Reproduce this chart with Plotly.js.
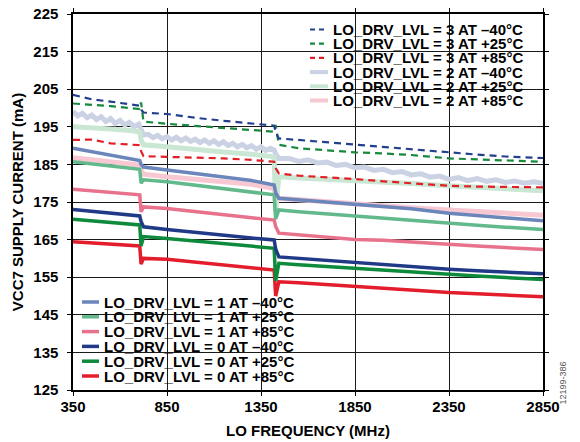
<!DOCTYPE html>
<html><head><meta charset="utf-8">
<script src="https://cdn.plot.ly/plotly-3.0.1.min.js"></script>
<style>html,body{margin:0;padding:0;background:#fff}#chart{width:580px;height:442px}</style>
</head><body><div id="chart"></div><script>
// ---- data ----
const freq = [350, 450, 550, 650, 705, 712, 725, 850, 1000, 1150, 1300, 1420, 1428, 1445, 1550, 1700, 1850, 2000, 2150, 2350, 2500, 2650, 2850];

const lvl3_m40 = [203.5, 202.3, 201.7, 201.0, 200.6, 199.6, 198.8, 198.4, 197.4, 196.6, 195.8, 195.3, 193.6, 191.9, 191.5, 190.9, 190.3, 189.5, 188.9, 188.1, 187.6, 187.1, 186.7];
const lvl3_p25 = [201.2, 200.9, 200.5, 200.0, 199.7, 201.5, 196.4, 195.8, 195.2, 194.7, 194.1, 193.7, 195.5, 190.2, 189.3, 188.7, 188.2, 187.9, 187.5, 186.6, 186.3, 186.0, 185.7];
const lvl3_p85 = [191.5, 191.6, 190.6, 190.3, 190.1, 188.5, 187.2, 187.0, 186.8, 186.6, 186.2, 185.7, 184.0, 182.6, 182.0, 181.6, 181.1, 180.5, 180.0, 179.3, 179.1, 179.0, 178.9];

const freqL2m40 = [350, 375, 400, 425, 450, 475, 500, 525, 550, 575, 600, 625, 650, 675, 700, 712, 725,
  750, 775, 800, 825, 850, 875, 900, 925, 950, 975, 1000, 1025, 1050, 1075, 1100, 1125, 1150, 1175, 1200, 1225, 1250, 1275, 1300, 1325, 1350, 1375, 1400, 1420, 1428, 1445,
  1500, 1550, 1600, 1650, 1700, 1750, 1800, 1850, 1900, 1950, 2000, 2050, 2100, 2150, 2200, 2250, 2300, 2350, 2400, 2450, 2500, 2550, 2600, 2650, 2700, 2750, 2800, 2850];
const lvl2_m40 = [199.1, 197.9, 198.6, 197.4, 198.1, 196.9, 197.7, 196.4, 197.2, 195.9, 196.7, 195.5, 196.2, 195.0, 195.7, 194.0, 192.8,
  193.0, 192.1, 192.7, 191.8, 192.4, 191.5, 192.2, 191.3, 192.0, 191.1, 191.7, 190.8, 191.5, 190.6, 191.3, 190.3, 191.0, 190.0, 190.6, 189.7, 190.3, 189.4, 190.0, 189.0, 189.7, 188.7, 189.3, 188.8, 187.8, 186.6,
  186.6, 185.8, 186.2, 185.4, 185.6, 184.7, 185.0, 184.1, 184.3, 183.4, 183.7, 182.8, 183.1, 182.2, 182.5, 181.6, 181.9, 181.0, 181.5, 180.7, 181.2, 180.5, 180.9, 180.2, 180.6, 180.0, 180.4, 180.0];
const lvl2_p25 = [195.0, 194.8, 194.4, 194.0, 193.7, 191.5, 190.2, 189.7, 188.9, 188.3, 187.7, 187.0, 172.5, 181.7, 181.4, 181.1, 180.7, 180.3, 179.9, 179.3, 178.9, 178.5, 178.0];
const lvl2_p85 = [186.8, 186.2, 185.7, 185.2, 184.8, 183.5, 182.4, 181.7, 181.0, 180.4, 179.7, 178.6, 177.0, 176.0, 175.6, 175.0, 174.5, 174.0, 173.5, 172.9, 172.4, 172.0, 171.5];

const lvl1_m40 = [189.3, 188.4, 187.5, 186.6, 186.0, 185.0, 184.3, 183.5, 182.6, 181.6, 180.7, 179.5, 177.5, 176.0, 175.6, 175.0, 174.3, 173.7, 173.2, 172.0, 171.4, 170.8, 170.0];
const lvl1_p25 = [185.7, 185.1, 184.6, 184.0, 183.7, 180.0, 180.9, 180.4, 179.5, 178.5, 177.5, 176.9, 170.5, 172.9, 172.4, 171.8, 171.2, 170.7, 170.1, 169.3, 168.8, 168.3, 167.7];
const lvl1_p85 = [178.4, 178.0, 177.6, 177.2, 176.9, 172.4, 173.7, 173.3, 172.4, 171.6, 170.8, 170.2, 168.5, 166.7, 166.3, 165.6, 165.0, 164.8, 164.3, 163.7, 163.3, 162.9, 162.4];

const lvl0_m40 = [173.0, 172.5, 172.1, 171.6, 171.3, 169.8, 168.4, 167.7, 166.9, 166.1, 165.4, 164.9, 162.5, 160.4, 160.0, 159.5, 159.0, 158.4, 157.9, 157.1, 156.7, 156.3, 155.9];
const lvl0_p25 = [170.4, 170.0, 169.6, 169.2, 168.9, 163.3, 165.8, 165.3, 164.6, 164.0, 163.4, 162.7, 154.0, 158.7, 158.3, 157.8, 157.3, 156.8, 156.4, 155.8, 155.3, 154.9, 154.4];
const lvl0_p85 = [164.4, 164.1, 163.8, 163.5, 163.3, 158.5, 160.0, 159.8, 159.0, 158.3, 157.6, 156.9, 150.0, 153.8, 153.5, 153.0, 152.5, 152.1, 151.6, 150.9, 150.6, 150.2, 149.8];

const xTicks = [350, 850, 1350, 1850, 2350, 2850];
const yTicks = [125, 135, 145, 155, 165, 175, 185, 195, 205, 215, 225];

const legendTop = ['LO_DRV_LVL = 3 AT \u201340°C', 'LO_DRV_LVL = 3 AT +25°C', 'LO_DRV_LVL = 3 AT +85°C',
                   'LO_DRV_LVL = 2 AT \u201340°C', 'LO_DRV_LVL = 2 AT +25°C', 'LO_DRV_LVL = 2 AT +85°C'];
const legendBottom = ['LO_DRV_LVL = 1 AT \u201340°C', 'LO_DRV_LVL = 1 AT +25°C', 'LO_DRV_LVL = 1 AT +85°C',
                      'LO_DRV_LVL = 0 AT \u201340°C', 'LO_DRV_LVL = 0 AT +25°C', 'LO_DRV_LVL = 0 AT +85°C'];

// ---- styles ----
const DASH = '7px,5px';
const S = {
  l3m40: {color: '#23408f', width: 2.2, dash: DASH},
  l3p25: {color: '#17893d', width: 2.2, dash: DASH},
  l3p85: {color: '#e21f26', width: 2.2, dash: DASH},
  l2m40: {color: '#cbd2e4', width: 5, dash: 'solid'},
  l2p25: {color: '#c9e7d3', width: 5, dash: 'solid'},
  l2p85: {color: '#f8c8d2', width: 5, dash: 'solid'},
  l1m40: {color: '#6a86ba', width: 3.5, dash: 'solid'},
  l1p25: {color: '#62b98b', width: 3.5, dash: 'solid'},
  l1p85: {color: '#e8718b', width: 3.5, dash: 'solid'},
  l0m40: {color: '#213a87', width: 3.5, dash: 'solid'},
  l0p25: {color: '#0d8a3b', width: 3.5, dash: 'solid'},
  l0p85: {color: '#e31d2b', width: 3.5, dash: 'solid'}
};

function tr(x, y, name, st) {
  return {type: 'scatter', mode: 'lines', x: x, y: y, name: name, showlegend: false,
          line: {color: st.color, width: st.width, dash: st.dash, shape: 'linear'}, hoverinfo: 'skip'};
}

const traces = [
  tr(freqL2m40, lvl2_m40, legendTop[3], S.l2m40),
  tr(freq, lvl2_p25, legendTop[4], S.l2p25),
  tr(freq, lvl2_p85, legendTop[5], S.l2p85),
  tr(freq, lvl1_p85, legendBottom[2], S.l1p85),
  tr(freq, lvl1_p25, legendBottom[1], S.l1p25),
  tr(freq, lvl1_m40, legendBottom[0], S.l1m40),
  tr(freq, lvl0_p85, legendBottom[5], S.l0p85),
  tr(freq, lvl0_p25, legendBottom[4], S.l0p25),
  tr(freq, lvl0_m40, legendBottom[3], S.l0m40),
  tr(freq, lvl3_p85, legendTop[2], S.l3p85),
  tr(freq, lvl3_p25, legendTop[1], S.l3p25),
  tr(freq, lvl3_m40, legendTop[0], S.l3m40)
];

// ---- layout geometry (pixels -> paper) ----
const W = 580, H = 442, L = 73, R = 37, T = 14, B = 52;
const PW = W - L - R, PH = H - T - B;
const px = v => (v - L) / PW;
const py = v => (H - B - v) / PH;

const FONT = 'Liberation Sans, Arial, Helvetica, sans-serif';
const shapes = [];
const annotations = [];

// legend boxes (cover grid, under traces)
shapes.push({type: 'rect', xref: 'paper', yref: 'paper', layer: 'between',
  x0: px(304), x1: px(542), y0: py(108), y1: py(15), fillcolor: '#ffffff', line: {width: 0}});
shapes.push({type: 'rect', xref: 'paper', yref: 'paper', layer: 'between',
  x0: px(74), x1: px(312), y0: py(389), y1: py(289), fillcolor: '#ffffff', line: {width: 0}});

function legendBlock(labels, styles, symX0, symX1, textX, rowY0, rowStep) {
  labels.forEach((lab, i) => {
    const st = styles[i];
    const yy = rowY0 + i * rowStep;
    shapes.push({type: 'line', xref: 'paper', yref: 'paper', layer: 'above',
      x0: px(symX0), x1: px(symX1), y0: py(yy), y1: py(yy),
      line: {color: st.color, width: Math.min(st.width, 4), dash: st.dash === 'solid' ? 'solid' : '5px,4px'}});
    annotations.push({xref: 'paper', yref: 'paper', x: px(textX), y: py(yy), xanchor: 'left', yanchor: 'middle',
      text: lab, showarrow: false, font: {family: FONT, size: 15, color: '#000', weight: 'bold'}});
  });
}
legendBlock(legendTop, [S.l3m40, S.l3p25, S.l3p85, S.l2m40, S.l2p25, S.l2p85], 310, 328, 331, 29.5, 14.2);
legendBlock(legendBottom, [S.l1m40, S.l1p25, S.l1p85, S.l0m40, S.l0p25, S.l0p85], 82, 99, 102, 302, 14.8);

annotations.push({xref: 'paper', yref: 'paper', x: px(569), y: py(407), textangle: -90,
  text: '12199-386', showarrow: false, font: {family: FONT, size: 9, color: '#555'}});

const axisCommon = {
  showline: true, linecolor: '#000', linewidth: 1.6, mirror: 'ticks',
  ticks: 'outside', ticklen: 4, tickcolor: '#000', tickwidth: 1,
  showgrid: true, gridcolor: '#1a1a1a', gridwidth: 1, zeroline: false,
  tickfont: {family: FONT, size: 15, color: '#000', weight: 'bold'},
  fixedrange: true
};

const layout = {
  width: W, height: H,
  margin: {l: L, r: R, t: T, b: B},
  paper_bgcolor: '#fff', plot_bgcolor: '#fff',
  showlegend: false,
  font: {family: FONT, color: '#000'},
  xaxis: Object.assign({}, axisCommon, {
    range: [350, 2850], tickmode: 'array', tickvals: xTicks, ticktext: xTicks.map(String),
    ticklabelstandoff: -2,
    title: {text: 'LO FREQUENCY (MHz)', font: {family: FONT, size: 15, color: '#000', weight: 'bold'}, standoff: 12}
  }),
  yaxis: Object.assign({}, axisCommon, {
    range: [125, 225], tickmode: 'array', tickvals: yTicks, ticktext: yTicks.map(String),
    ticklabelstandoff: 6,
    title: {text: 'VCC7 SUPPLY CURRENT (mA)', font: {family: FONT, size: 15, color: '#000', weight: 'bold'}, standoff: 6}
  }),
  shapes: shapes,
  annotations: annotations
};

Plotly.newPlot('chart', traces, layout, {staticPlot: true, displayModeBar: false});
</script></body></html>
